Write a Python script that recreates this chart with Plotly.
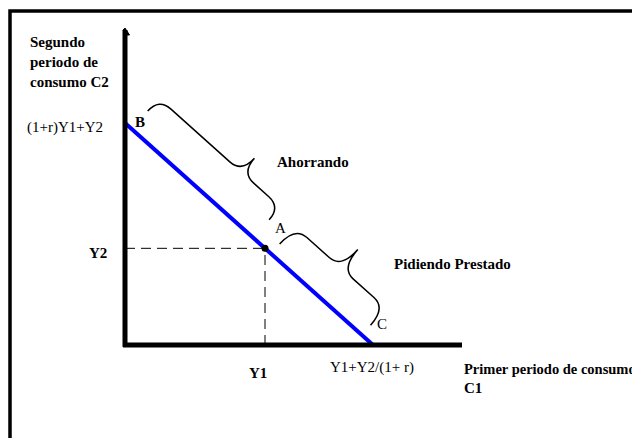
import numpy as np
import plotly.graph_objects as go

# ---- data (model units) ----
Y1 = 1.40                 # first-period income
B_intercept = 2.22        # (1+r)Y1 + Y2  (vertical intercept)
C_intercept = 2.48        # Y1 + Y2/(1+r) (horizontal intercept)
Y2 = B_intercept * (1 - Y1 / C_intercept)   # point A lies on the budget line

budget_x = [0.0, Y1, C_intercept]
budget_y = [B_intercept, Y2, 0.0]

axis_x_max = 3.37
axis_y_max = 3.15

ylabel_lines = ["Segundo", "periodo de", "consumo C2"]
xlabel_lines = ["Primer periodo de consumo", "C1"]
tick_y_labels = ["(1+r)Y1+Y2", "Y2"]
tick_x_labels = ["Y1", "Y1+Y2/(1+ r)"]
point_labels = ["B", "A", "C"]
brace_labels = ["Ahorrando", "Pidiendo Prestado"]

SERIF = "Liberation Serif, Times New Roman, serif"

fig = go.Figure()

# budget line
fig.add_trace(go.Scatter(x=budget_x, y=budget_y, mode="lines",
                         line=dict(color="#0000ff", width=4), hoverinfo="skip"))
# point A
fig.add_trace(go.Scatter(x=[Y1], y=[Y2], mode="markers",
                         marker=dict(color="black", size=7), hoverinfo="skip"))

shapes = []
# frame
shapes.append(dict(type="rect", xref="x", yref="y", x0=-1.15, y0=-3, x1=7, y1=3.34,
                   line=dict(color="black", width=3.5)))
# axes
shapes.append(dict(type="line", xref="x", yref="y", x0=0, y0=-0.02, x1=0, y1=axis_y_max,
                   line=dict(color="black", width=5)))
shapes.append(dict(type="line", xref="x", yref="y", x0=-0.02, y0=0, x1=axis_x_max, y1=0,
                   line=dict(color="black", width=5)))
shapes.append(dict(type="path", xref="x", yref="y",
                   path=f"M -0.02,{axis_y_max} L 0.0,{axis_y_max+0.02} L 0.045,{axis_y_max-0.05} L 0.02,{axis_y_max-0.05} Z",
                   fillcolor="black", line=dict(color="black", width=1)))
# dashed guides
shapes.append(dict(type="line", xref="x", yref="y", x0=0, y0=Y2, x1=Y1, y1=Y2,
                   line=dict(color="black", width=1, dash="10px,6px")))
shapes.append(dict(type="line", xref="x", yref="y", x0=Y1, y0=0, x1=Y1, y1=Y2,
                   line=dict(color="black", width=1, dash="10px,6px")))


def brace(p0, p1, t0, t1, tip, s0, h, d, q):
    p0 = np.array(p0, float)
    p1 = np.array(p1, float)
    v = p1 - p0
    u = v / np.linalg.norm(v)
    n = np.array([-u[1], u[0]])
    if n[0] < 0:
        n = -n

    def P(a, b):
        pt = p0 + a * u + (s0 + b) * n
        return f"{pt[0]:.4f},{pt[1]:.4f}"

    return (f"M {P(t0,0)} Q {P(t0,h)} {P(t0+q,h)} L {P(tip-q,h)} "
            f"Q {P(tip,h)} {P(tip,d)} Q {P(tip,h)} {P(tip+q,h)} "
            f"L {P(t1-q,h)} Q {P(t1,h)} {P(t1,0)}")


B = (0.0, B_intercept)
A = (Y1, Y2)
C = (C_intercept, 0.0)
shapes.append(dict(type="path", xref="x", yref="y",
                   path=brace(B, A, 0.09, 1.72, 1.20, 0.24, 0.17, 0.36, 0.16),
                   line=dict(color="black", width=1.5)))
shapes.append(dict(type="path", xref="x", yref="y",
                   path=brace(A, C, 0.08, 1.30, 0.70, 0.13, 0.23, 0.48, 0.16),
                   line=dict(color="black", width=1.5)))

ann = []


def text(x, y, s, bold=False, size=15, xanchor="center"):
    ann.append(dict(x=x, y=y, xref="x", yref="y", text=(f"<b>{s}</b>" if bold else s),
                    showarrow=False, xanchor=xanchor, yanchor="middle",
                    font=dict(family=SERIF, size=size, color="black")))


for i, line in enumerate(ylabel_lines):
    text(-0.97, 3.03 - 0.20 * i, line, bold=True, xanchor="left")
text(-1.00, B_intercept - 0.04, tick_y_labels[0], xanchor="left")
text(-0.275, Y2 - 0.05, tick_y_labels[1], bold=True)
text(Y1 - 0.07, -0.28, tick_x_labels[0], bold=True)
text(C_intercept - 0.015, -0.22, tick_x_labels[1])
text(axis_x_max, -0.24, xlabel_lines[0], bold=True, size=14.5, xanchor="left")
text(axis_x_max, -0.43, xlabel_lines[1], bold=True, xanchor="left")
text(B[0] + 0.145, B[1] + 0.01, point_labels[0], bold=True)
text(A[0] + 0.15, A[1] + 0.20, point_labels[1])
text(C[0] + 0.085, C[1] + 0.21, point_labels[2])
text(1.50, 1.83, brace_labels[0], bold=True, xanchor="left")
text(2.67, 0.81, brace_labels[1], bold=True, xanchor="left")

# page body has an 8px default margin: shift ranges so the origin lands at (125, 345)
fig.update_layout(
    width=640, height=438,
    margin=dict(l=0, r=0, t=0, b=0),
    paper_bgcolor="white", plot_bgcolor="white",
    showlegend=False,
    xaxis=dict(range=[-1.17, 5.23], visible=False, fixedrange=True),
    yaxis=dict(range=[-1.01, 3.37], visible=False, fixedrange=True),
    shapes=shapes, annotations=ann,
)

fig.write_html("out.html")
